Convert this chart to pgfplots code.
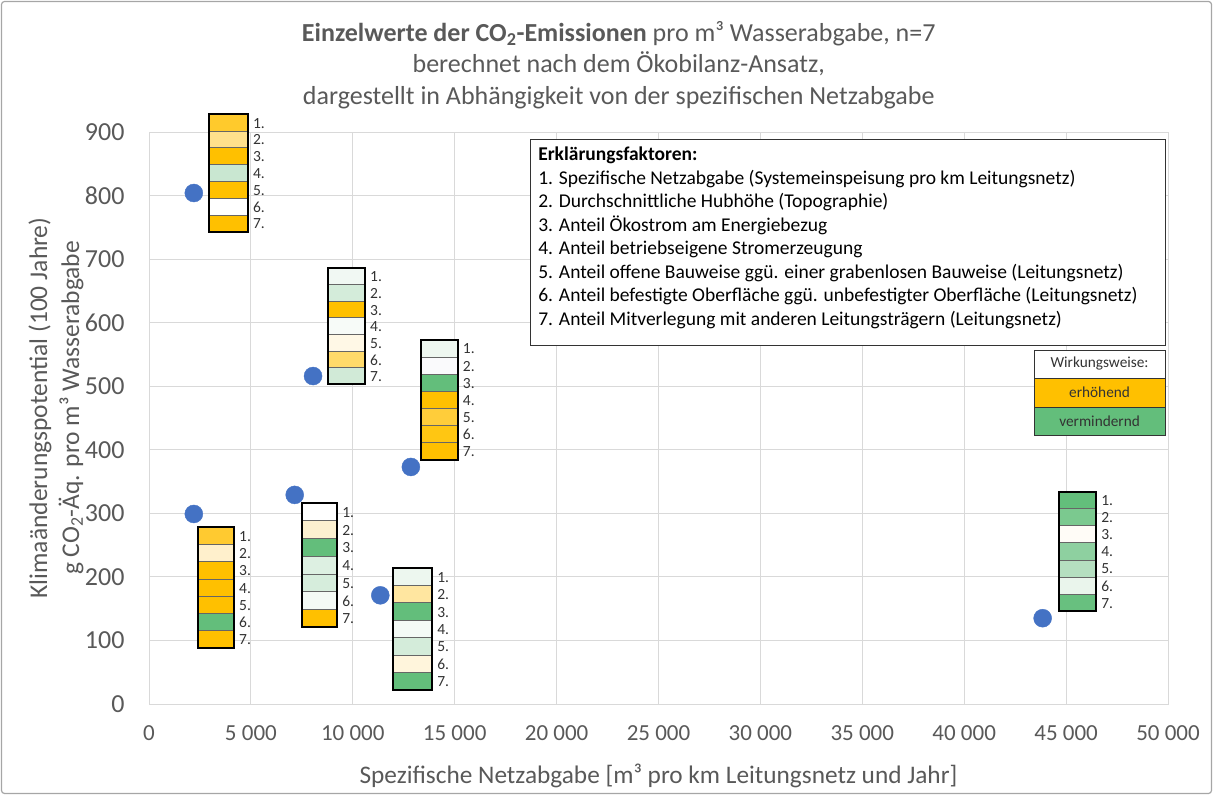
\documentclass[border=0pt]{standalone}
\usepackage{pgfplots}
\pgfplotsset{compat=1.18}
\usepackage{fontspec}
\setmainfont{Carlito}
\definecolor{txtgray}{HTML}{595959}
\definecolor{gridgray}{HTML}{D9D9D9}
\definecolor{dotblue}{HTML}{4472C4}
\definecolor{erh}{HTML}{FFC000}
\definecolor{verm}{HTML}{63BE7B}

\newcommand{\factorbox}[5]{%
  \pgfplotsextra{%
    \pgfmathsetmacro\hh{(#3-#4)/7}%
    \foreach \cc [count=\i] in {#5} {%
      \pgfmathsetmacro\yt{#3-(\i-1)*\hh}%
      \pgfmathsetmacro\yb{#3-\i*\hh}%
      \definecolor{tmpc}{HTML}{\cc}%
      \fill[tmpc] (axis cs:#1,\yt) rectangle (axis cs:#2,\yb);
    }%
    \foreach \i in {1,...,7} {%
      \pgfmathsetmacro\yb{#3-\i*\hh}%
      \pgfmathsetmacro\ym{#3-(\i-0.5)*\hh}%
      \ifnum\i<7 \draw[black!60, line width=0.9pt] (axis cs:#1,\yb) -- (axis cs:#2,\yb);\fi
      \node[anchor=west, inner sep=0pt, xshift=5pt, yshift=-0.5pt, font=\fontsize{15.5}{17}\selectfont, text=black!80] at (axis cs:#2,\ym) {\i.};
    }%
    \draw[black, line width=1.8pt] (axis cs:#1,#3) rectangle (axis cs:#2,#4);
  }%
}

\begin{document}
\begin{tikzpicture}
\useasboundingbox (0pt,0pt) rectangle (1213pt,795pt);
\draw[black!35, line width=1.2pt, rounded corners=3pt] (1.5pt,1.5pt) rectangle (1211.5pt,793.5pt);
\begin{axis}[
  at={(149pt,91pt)}, anchor=south west,
  scale only axis, width=1019pt, height=572pt,
  xmin=0, xmax=50000, ymin=0, ymax=900,
  xtick={0,5000,...,50000}, ytick={0,100,...,900},
  scaled x ticks=false,
  grid=major, major grid style={draw=gridgray, line width=0.9pt},
  axis line style={draw=gridgray, line width=0.9pt},
  major tick length=0pt,
  tick label style={text=txtgray},
  /pgf/number format/.cd, assume math mode=true, 1000 sep={\ }, /pgfplots/.cd,
  xticklabel style={yshift=-18pt, font=\fontsize{23}{26}\selectfont},
  yticklabel style={xshift=-21pt, font=\fontsize{26}{28}\selectfont},
  title={\textbf{Einzelwerte der CO\textsubscript{2}-Emissionen} pro m³ Wasserabgabe, n=7\\berechnet nach dem Ökobilanz-Ansatz,\\dargestellt in Abhängigkeit von der spezifischen Netzabgabe},
  title style={at={(rel axis cs:0.461,1)}, anchor=center, yshift=61pt, align=center, text=txtgray, font=\fontsize{26}{31.5}\selectfont},
  xlabel={Spezifische Netzabgabe [m³ pro km Leitungsnetz und Jahr]},
  xlabel style={at={(rel axis cs:0.5,0)}, anchor=center, yshift=-72pt, text=txtgray, font=\fontsize{25.3}{28}\selectfont},
  clip=false,
]
\addplot[only marks, mark=*, mark size=9pt, mark options={draw=dotblue, fill=dotblue}] coordinates {
  (2200,804) (8050,516) (12850,373) (2200,299) (7150,329) (11350,171) (43850,135)
};

\factorbox{2950}{4850}{928}{743}{FFCA2C,FFE08C,FFC000,C9E7D1,FFC000,FFFFFF,FFC000}
\factorbox{8780}{10600}{686}{503}{F1F8F3,D4ECDA,FFC000,F7FBF8,FFF8E6,FFDA6A,D1EAD7}
\factorbox{13350}{15150}{573}{384}{EEF7F0,FAFAFC,63BE7B,FFC000,FFCD3A,FFC612,FFC000}
\factorbox{2400}{4170}{278}{88}{FFCA30,FFF0CC,FFC000,FFC000,FFC000,63BE7B,FFC000}
\factorbox{7500}{9230}{316}{121}{FFFFFF,FCF0D0,63BE7B,DDF0E2,D6EDDC,F4FAF5,FFC000}
\factorbox{11970}{13890}{214}{22}{EDF7EF,FFE6A0,63BE7B,F4FAF6,D4ECDA,FFF5DC,63BE7B}
\factorbox{44650}{46470}{334}{146}{63BE7B,7BC98F,FFFCF7,8ED0A0,B5DFC0,EAF5EC,68C07F}

\node[anchor=north west, draw=black!80, line width=0.9pt, fill=white, inner sep=0pt,
      minimum width=635pt, minimum height=206pt] at (axis cs:18700,889) {};
\node[anchor=north west, align=left, inner sep=0pt, font=\fontsize{19.5}{23.5}\selectfont, text=black]
  at ([xshift=8pt,yshift=-8pt]axis cs:18700,889) {\textbf{Erklärungsfaktoren:}\\
1. Spezifische Netzabgabe (Systemeinspeisung pro km Leitungsnetz)\\
2. Durchschnittliche Hubhöhe (Topographie)\\
3. Anteil Ökostrom am Energiebezug\\
4. Anteil betriebseigene Stromerzeugung\\
5. Anteil offene Bauweise ggü. einer grabenlosen Bauweise (Leitungsnetz)\\
6. Anteil befestigte Oberfläche ggü. unbefestigter Oberfläche (Leitungsnetz)\\
7. Anteil Mitverlegung mit anderen Leitungsträgern (Leitungsnetz)};

\fill[white] (axis cs:43430,557) rectangle (axis cs:49855,513);
\fill[erh] (axis cs:43430,513) rectangle (axis cs:49855,467);
\fill[verm] (axis cs:43430,467) rectangle (axis cs:49855,423);
\draw[black!80, line width=0.9pt] (axis cs:43430,513) -- (axis cs:49855,513);
\draw[black!80, line width=0.9pt] (axis cs:43430,467) -- (axis cs:49855,467);
\draw[black!80, line width=0.9pt] (axis cs:43430,557) rectangle (axis cs:49855,423);
\node[font=\fontsize{15.3}{17}\selectfont, text=black!80] at (axis cs:46642,535) {Wirkungsweise:};
\node[font=\fontsize{15.3}{17}\selectfont, text=black!80] at (axis cs:46642,490) {erhöhend};
\node[font=\fontsize{15.3}{17}\selectfont, text=black!80] at (axis cs:46642,445) {vermindernd};
\end{axis}
\node[rotate=90, align=center, text=txtgray, font=\fontsize{25.5}{32}\selectfont] at (56pt,387pt)
  {Klimaänderungspotential (100 Jahre)\\g CO\textsubscript{2}-Äq. pro m³ Wasserabgabe};
\end{tikzpicture}
\end{document}
